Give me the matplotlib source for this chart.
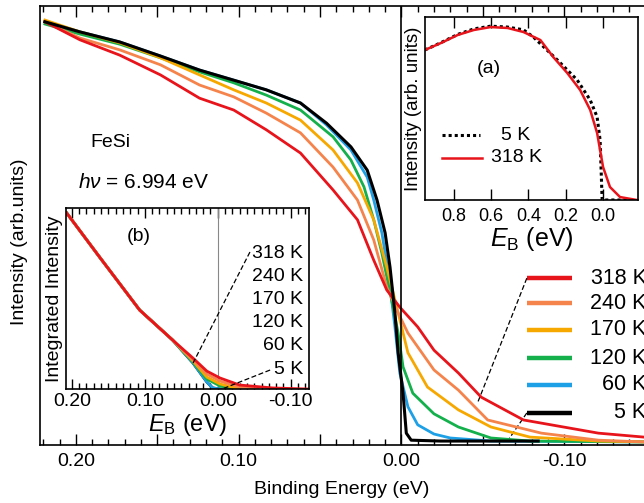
import numpy as np
import matplotlib
matplotlib.use('Agg')
import matplotlib.pyplot as plt
from matplotlib.ticker import MultipleLocator, FuncFormatter

plt.rcParams['font.family'] = ['Liberation Sans', 'DejaVu Sans']
plt.rcParams['mathtext.fontset'] = 'custom'
plt.rcParams['mathtext.rm'] = 'Liberation Sans'
plt.rcParams['mathtext.it'] = 'Liberation Sans:italic'
plt.rcParams['axes.unicode_minus'] = False

# ---- main panel: spectra (binding energy in eV, intensity arb. units)
temps = ['318 K', '240 K', '170 K', '120 K', '60 K', '5 K']
colors = ['#e8141c', '#f5844c', '#f6a800', '#14b04c', '#1ea0e6', '#000000']

e_318 = [0.219, 0.1975, 0.173, 0.148, 0.124, 0.103, 0.083, 0.062, 0.042, 0.027, 0.017, 0.009,
         0.001, -0.010, -0.020, -0.035, -0.049, -0.075, -0.121, -0.149]
i_318 = [0.964, 0.923, 0.888, 0.843, 0.790, 0.763, 0.718, 0.665, 0.581, 0.513, 0.421, 0.353,
         0.314, 0.269, 0.216, 0.164, 0.109, 0.057, 0.027, 0.018]
e_240 = [0.219, 0.1975, 0.173, 0.148, 0.124, 0.103, 0.083, 0.062, 0.042, 0.027, 0.017, 0.009,
         0.002, -0.004, -0.020, -0.035, -0.053, -0.086, -0.121, -0.149]
i_240 = [0.964, 0.927, 0.900, 0.866, 0.820, 0.793, 0.756, 0.711, 0.633, 0.558, 0.467, 0.360,
         0.301, 0.255, 0.171, 0.125, 0.057, 0.027, 0.011, 0.007]
e_170 = [0.219, 0.1975, 0.173, 0.148, 0.124, 0.103, 0.083, 0.062, 0.042, 0.027, 0.017, 0.009,
         0.002, -0.004, -0.016, -0.035, -0.055, -0.079, -0.121, -0.149]
i_170 = [0.968, 0.941, 0.916, 0.882, 0.843, 0.809, 0.779, 0.740, 0.672, 0.597, 0.513, 0.405,
         0.301, 0.210, 0.132, 0.080, 0.041, 0.018, 0.009, 0.007]
e_120 = [0.219, 0.1975, 0.173, 0.148, 0.124, 0.103, 0.083, 0.062, 0.042, 0.031, 0.023, 0.017,
         0.012, 0.006, 0.002, -0.001, -0.007, -0.020, -0.035, -0.055, -0.079, -0.149]
i_120 = [0.959, 0.936, 0.913, 0.882, 0.850, 0.825, 0.797, 0.763, 0.702, 0.649, 0.588, 0.513,
         0.437, 0.330, 0.255, 0.178, 0.118, 0.071, 0.041, 0.016, 0.009, 0.007]
e_60 = [0.219, 0.1975, 0.173, 0.148, 0.124, 0.103, 0.083, 0.062, 0.046, 0.031, 0.021, 0.017,
        0.012, 0.008, 0.004, 0.001, -0.004, -0.010, -0.020, -0.030, -0.055, -0.149]
i_60 = [0.964, 0.941, 0.918, 0.886, 0.854, 0.831, 0.809, 0.779, 0.729, 0.672, 0.610, 0.558,
        0.483, 0.392, 0.269, 0.164, 0.087, 0.046, 0.025, 0.016, 0.009, 0.007]
e_5 = [0.219, 0.1975, 0.173, 0.148, 0.124, 0.103, 0.083, 0.062, 0.046, 0.031, 0.021, 0.015,
       0.010, 0.007, 0.004, 0.002, -0.001, -0.003, -0.006, -0.024, -0.084]
i_5 = [0.964, 0.941, 0.918, 0.886, 0.854, 0.831, 0.809, 0.779, 0.733, 0.679, 0.626, 0.558,
       0.483, 0.405, 0.301, 0.210, 0.118, 0.027, 0.011, 0.009, 0.009]

# ---- inset (a): wide range, 5 K vs 318 K
a_e_318 = [0.955, 0.869, 0.779, 0.693, 0.603, 0.512, 0.427, 0.336, 0.267, 0.192, 0.123, 0.069,
           0.032, 0.016, 0.0, -0.037, -0.091, -0.181]
a_i_318 = [0.820, 0.858, 0.902, 0.929, 0.945, 0.940, 0.918, 0.874, 0.781, 0.694, 0.601, 0.492,
           0.366, 0.273, 0.180, 0.071, 0.016, 0.0]
a_e_5 = [0.955, 0.869, 0.779, 0.693, 0.603, 0.512, 0.427, 0.373, 0.245, 0.139, 0.069, 0.032,
         0.016, 0.011, 0.005, -0.160]
a_i_5 = [0.820, 0.860, 0.905, 0.935, 0.950, 0.945, 0.930, 0.890, 0.765, 0.656, 0.546, 0.454,
         0.328, 0.180, 0.0, 0.0]

# ---- inset (b): integrated intensity
b_e_318 = [0.207, 0.162, 0.107, 0.062, 0.034, 0.015, -0.003, -0.030, -0.075, -0.123]
b_i_318 = [0.972, 0.729, 0.436, 0.271, 0.171, 0.099, 0.061, 0.022, 0.006, 0.0]
b_e_240 = [0.207, 0.162, 0.107, 0.062, 0.034, 0.015, -0.003, -0.030, -0.055]
b_i_240 = [0.972, 0.729, 0.436, 0.271, 0.160, 0.083, 0.044, 0.011, 0.0]
b_e_170 = [0.207, 0.162, 0.107, 0.062, 0.034, 0.015, -0.003, -0.030]
b_i_170 = [0.972, 0.729, 0.436, 0.271, 0.155, 0.066, 0.028, 0.0]
b_e_120 = [0.207, 0.162, 0.107, 0.062, 0.034, 0.015, -0.003, -0.019]
b_i_120 = [0.972, 0.729, 0.436, 0.271, 0.149, 0.055, 0.017, 0.0]
b_e_60 = [0.207, 0.162, 0.107, 0.062, 0.034, 0.015, 0.007, -0.005]
b_i_60 = [0.972, 0.729, 0.436, 0.271, 0.144, 0.039, 0.006, 0.0]
b_e_5 = [0.207, 0.162, 0.107, 0.062, 0.034, 0.015, 0.007, -0.003]
b_i_5 = [0.972, 0.729, 0.436, 0.271, 0.144, 0.039, 0.006, 0.0]

main_e = [e_318, e_240, e_170, e_120, e_60, e_5]
main_i = [i_318, i_240, i_170, i_120, i_60, i_5]
int_e = [b_e_318, b_e_240, b_e_170, b_e_120, b_e_60, b_e_5]
int_i = [b_i_318, b_i_240, b_i_170, b_i_120, b_i_60, b_i_5]


def tenth_fmt(x, pos):
    # labels only on multiples of 0.1
    if abs(round(x * 10) - x * 10) < 1e-6:
        return '%.2f' % x if abs(x) > 1e-9 else '0.00'
    return ''


fig = plt.figure(figsize=(6.44, 5.03), dpi=100)

# main axes
ax = fig.add_axes([0.0621, 0.1153, 0.9379, 0.8728])
for k in range(len(temps) - 1, -1, -1):
    lw = 2.2 if temps[k] == '5 K' else 2.0
    z = 3.5 if temps[k] == '5 K' else 2 + (5 - k) * 0.1
    ax.plot(main_e[k], main_i[k], color=colors[k], lw=lw, zorder=z)
ax.axvline(0, color='k', lw=1.2, zorder=4)
ax.set_xlim(0.222, -0.149)
ax.set_ylim(0, 1)
ax.spines['right'].set_visible(False)
for s in ax.spines.values():
    s.set_linewidth(1.2)
ax.xaxis.set_major_locator(MultipleLocator(0.05))
ax.xaxis.set_minor_locator(MultipleLocator(0.01))
ax.xaxis.set_major_formatter(FuncFormatter(tenth_fmt))
ax.set_yticks([])
ax.tick_params(axis='x', which='both', direction='in', top=True, bottom=True, labelsize=14)
ax.tick_params(axis='x', which='major', length=8, width=1, pad=6)
ax.tick_params(axis='x', which='minor', length=4, width=1)
ax.set_xlabel('Binding Energy (eV)', fontsize=14, labelpad=8)
fig.text(0.031, 0.52, 'Intensity (arb.units)', rotation=90, ha='center', va='center', fontsize=14)

ax.text(0.083, 0.69, 'FeSi', transform=ax.transAxes, fontsize=14, va='center')
ax.text(0.063, 0.599, r'$h\nu$ = 6.994 eV', transform=ax.transAxes, fontsize=15, va='center')

# manual legend at right (the reference crops the "K" at the figure edge)
leg_y = [0.380, 0.323, 0.262, 0.198, 0.137, 0.073]
for k in range(len(temps)):
    ax.plot([0.806, 0.881], [leg_y[k], leg_y[k]], color=colors[k], lw=3.2,
            transform=ax.transAxes, clip_on=False, solid_capstyle='butt')
    ax.text(1.004, leg_y[k], temps[k], transform=ax.transAxes, ha='right', va='center',
            fontsize=15.5, clip_on=False)
ax.plot([0.806, 0.725], [0.380, 0.098], 'k--', lw=0.9, transform=ax.transAxes, dashes=(4, 2))
ax.plot([0.806, 0.773], [0.073, 0.007], 'k--', lw=0.9, transform=ax.transAxes, dashes=(4, 2))

# inset (a)
axa = fig.add_axes([0.6599, 0.6024, 0.3307, 0.3638])
axa.plot(a_e_5, a_i_5, color='k', lw=2.2, ls=(0, (1, 1)), label='5 K')
axa.plot(a_e_318, a_i_318, color='#e8141c', lw=1.8, label='318 K')
axa.set_xlim(0.955, -0.187)
axa.set_ylim(0, 1.0)
axa.xaxis.set_major_locator(MultipleLocator(0.2))
axa.xaxis.set_major_formatter(FuncFormatter(lambda x, p: '%.1f' % abs(x) if abs(x) < 1e-9 else '%.1f' % x))
axa.set_yticks([])
axa.tick_params(axis='x', which='both', direction='in', top=True, bottom=True, labelsize=13,
                length=8, width=1, pad=6)
for s in axa.spines.values():
    s.set_linewidth(1.2)
axa.set_xlabel(r'$E_{\mathrm{B}}$ (eV)', fontsize=18, labelpad=0)
axa.set_ylabel('Intensity (arb. units)', fontsize=13.5, labelpad=2)
axa.text(0.30, 0.72, '(a)', transform=axa.transAxes, fontsize=14, ha='center', va='center')
axa.plot([0.08, 0.26], [0.355, 0.355], color='k', lw=2.2, ls=(0, (1, 1)), transform=axa.transAxes)
axa.plot([0.08, 0.27], [0.23, 0.23], color='#e8141c', lw=1.8, transform=axa.transAxes)
axa.text(0.495, 0.355, '5 K', transform=axa.transAxes, fontsize=14, ha='right', va='center')
axa.text(0.31, 0.23, '318 K', transform=axa.transAxes, fontsize=14, ha='left', va='center')

# inset (b)
axb = fig.add_axes([0.1025, 0.2266, 0.3773, 0.3598])
axb.axvline(0, color='#888888', lw=0.8)
for k in range(len(temps) - 1, -1, -1):
    axb.plot(int_e[k], int_i[k], color=colors[k], lw=2.0)
axb.set_xlim(0.208, -0.125)
axb.set_ylim(0, 1)
axb.xaxis.set_major_locator(MultipleLocator(0.1))
axb.xaxis.set_minor_locator(MultipleLocator(0.01))
axb.xaxis.set_major_formatter(FuncFormatter(tenth_fmt))
axb.set_yticks([])
axb.tick_params(axis='x', which='both', direction='in', top=True, bottom=True, labelsize=14)
axb.tick_params(axis='x', which='major', length=7, width=1, pad=3)
axb.tick_params(axis='x', which='minor', length=4, width=1)
for s in axb.spines.values():
    s.set_linewidth(1.2)
axb.set_xlabel(r'$E_{\mathrm{B}}$ (eV)', fontsize=17, labelpad=1)
axb.set_ylabel('Integrated Intensity', fontsize=14, labelpad=2)
axb.text(0.30, 0.84, '(b)', transform=axb.transAxes, fontsize=14, ha='center', va='center')
lab_y = [0.751, 0.619, 0.492, 0.365, 0.238, 0.110]
for k in range(len(temps)):
    axb.text(0.975, lab_y[k], temps[k], transform=axb.transAxes, ha='right', va='center', fontsize=14)
axb.plot([0.757, 0.523], [0.757, 0.144], 'k--', lw=0.9, transform=axb.transAxes, dashes=(4, 2))
axb.plot([0.840, 0.642], [0.105, 0.0], 'k--', lw=0.9, transform=axb.transAxes, dashes=(4, 2))

fig.savefig('out.png', dpi=100)
